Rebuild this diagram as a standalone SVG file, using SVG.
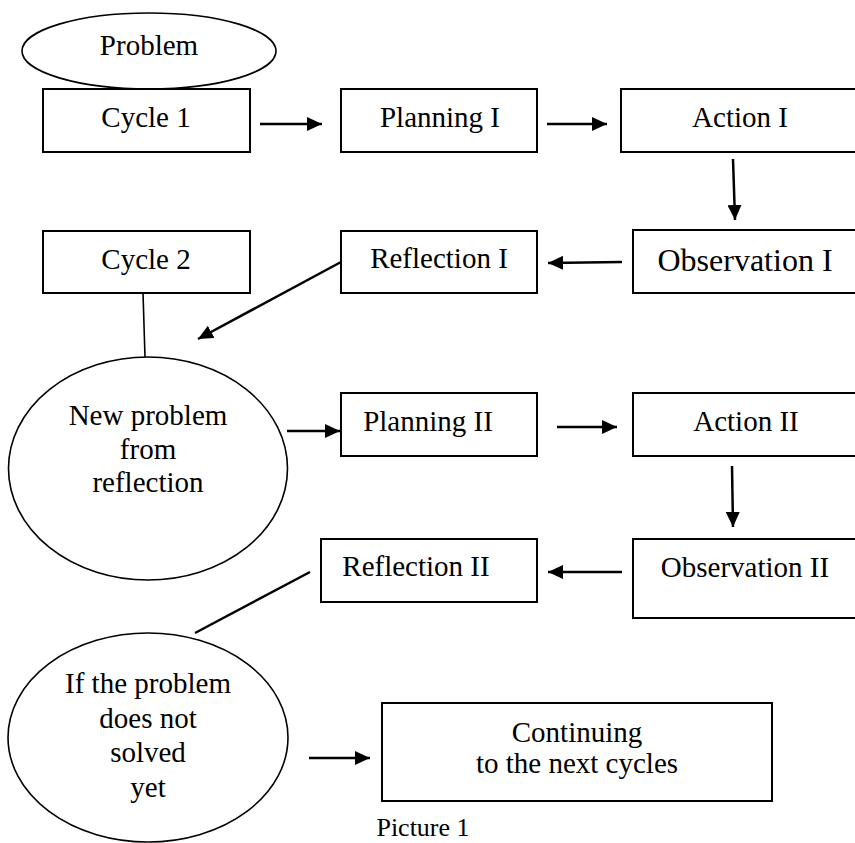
<svg xmlns="http://www.w3.org/2000/svg" width="855" height="843" viewBox="0 0 855 843">
<style>
.box{fill:#fff;stroke:#000;stroke-width:2}
.ell{fill:#fff;stroke:#000;stroke-width:1.6}
.t{font-family:"Liberation Serif","Times New Roman",serif;font-size:29px;fill:#000;text-anchor:middle}
.arr{stroke:#000;stroke-width:2.5;fill:none;marker-end:url(#ah)}
.ln{stroke:#000;fill:none}
</style>
<defs>
<marker id="ah" markerUnits="userSpaceOnUse" markerWidth="16" markerHeight="14" refX="15" refY="7" orient="auto">
<path d="M0,0 L15,7 L0,14 z" fill="#000"/>
</marker>
</defs>
<rect width="855" height="843" fill="#fff"/>
<g id="connectors">
<line class="arr" x1="260" y1="124" x2="322" y2="124"/>
<line class="arr" x1="547" y1="124" x2="607" y2="124"/>
<line class="arr" x1="733" y1="159" x2="735" y2="220"/>
<line class="arr" x1="622" y1="262" x2="548" y2="263"/>
<line class="arr" x1="341" y1="262" x2="198" y2="339"/>
<line class="ln" stroke-width="1.6" x1="143" y1="293" x2="145" y2="357"/>
<line class="arr" x1="287" y1="431" x2="340" y2="431"/>
<line class="arr" x1="557" y1="427" x2="617" y2="427"/>
<line class="arr" x1="732" y1="466" x2="733" y2="527"/>
<line class="arr" x1="622" y1="572" x2="548" y2="572"/>
<line class="ln" stroke-width="2.5" x1="310" y1="572" x2="195" y2="633"/>
<line class="arr" x1="309" y1="758" x2="370" y2="758"/>
</g>
<g id="problem">
<ellipse class="ell" cx="149" cy="51" rx="127" ry="38"/>
<text class="t" x="149" y="55">Problem</text>
</g>
<g id="cycle1">
<rect class="box" x="43" y="89" width="207" height="63"/>
<text class="t" x="146" y="127">Cycle 1</text>
</g>
<g id="planning1">
<rect class="box" x="341" y="89" width="196" height="63"/>
<text class="t" x="440" y="127">Planning I</text>
</g>
<g id="action1">
<rect class="box" x="621" y="89" width="240" height="63"/>
<text class="t" x="740" y="127">Action I</text>
</g>
<g id="observation1">
<rect class="box" x="633" y="230" width="228" height="63"/>
<text class="t" x="745" y="271" style="font-size:32px">Observation I</text>
</g>
<g id="reflection1">
<rect class="box" x="341" y="231" width="196" height="62"/>
<text class="t" x="439" y="268">Reflection I</text>
</g>
<g id="cycle2">
<rect class="box" x="43" y="231" width="207" height="62"/>
<text class="t" x="146" y="269">Cycle 2</text>
</g>
<g id="newproblem">
<ellipse class="ell" cx="148" cy="468.5" rx="139.5" ry="111.5"/>
<text class="t" x="148" y="425">New problem</text>
<text class="t" x="148" y="459">from</text>
<text class="t" x="148" y="492">reflection</text>
</g>
<g id="planning2">
<rect class="box" x="341" y="393" width="196" height="63"/>
<text class="t" x="428" y="431">Planning II</text>
</g>
<g id="action2">
<rect class="box" x="633" y="393" width="228" height="63"/>
<text class="t" x="746" y="431">Action II</text>
</g>
<g id="observation2">
<rect class="box" x="633" y="539" width="228" height="79"/>
<text class="t" x="745" y="577">Observation II</text>
</g>
<g id="reflection2">
<rect class="box" x="321" y="539" width="216" height="63"/>
<text class="t" x="416" y="576">Reflection II</text>
</g>
<g id="notsolved">
<ellipse class="ell" cx="148" cy="737.5" rx="140" ry="104.5"/>
<text class="t" x="148" y="693">If the problem</text>
<text class="t" x="148" y="728">does not</text>
<text class="t" x="148" y="762">solved</text>
<text class="t" x="148" y="797">yet</text>
</g>
<g id="continuing">
<rect class="box" x="382" y="703" width="390" height="98"/>
<text class="t" x="577" y="742">Continuing</text>
<text class="t" x="577" y="773">to the next cycles</text>
</g>
<g id="caption">
<text class="t" x="423" y="836" style="font-size:26px">Picture 1</text>
</g>
</svg>
